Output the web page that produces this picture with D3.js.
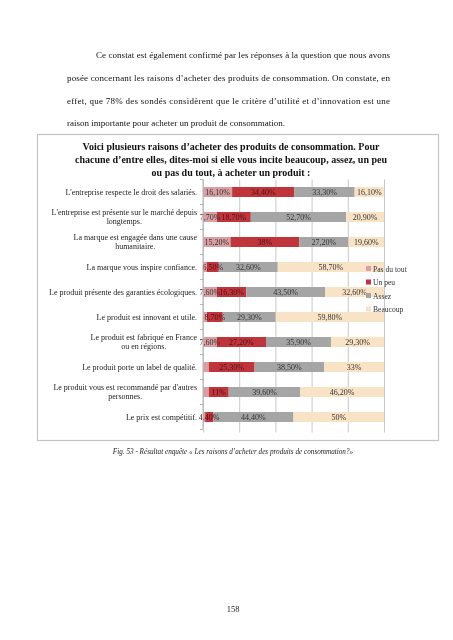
<!DOCTYPE html>
<html><head><meta charset="utf-8">
<script src="https://cdn.jsdelivr.net/npm/d3@7"></script>
<style>html,body{margin:0;padding:0;background:#fff;}svg{display:block;opacity:0.999;will-change:transform;}</style>
</head><body>
<script>
const categories = [
  ["L'entreprise respecte le droit des salariés."],
  ["L'entreprise est présente sur le marché depuis", "longtemps."],
  ["La marque est engagée dans une cause", "humanitaire."],
  ["La marque vous inspire confiance."],
  ["Le produit présente des garanties écologiques."],
  ["Le produit est innovant et utile."],
  ["Le produit est fabriqué en France", "ou en régions."],
  ["Le produit porte un label de qualité."],
  ["Le produit vous est recommandé par d'autres", "personnes."],
  ["Le prix est compétitif."]
];
const seriesNames = ["Pas du tout", "Un peu", "Assez", "Beaucoup"];
const pasDuTout = [16.1, 7.7, 15.2, 2.2, 7.6, 2.2, 7.6, 3.2, 3.2, 1.2];
const unPeu     = [34.4, 18.7, 38.0, 6.5, 16.3, 8.7, 27.2, 25.3, 11.0, 4.4];
const assez     = [33.3, 52.7, 27.2, 32.6, 43.5, 29.3, 35.9, 38.5, 39.6, 44.4];
const beaucoup  = [16.1, 20.9, 19.6, 58.7, 32.6, 59.8, 29.3, 33.0, 46.2, 50.0];
const colors = ["#d99fa2", "#c0343c", "#a5a5a5", "#f9e3c6"];
const xTicks = [0, 20, 40, 60, 80, 100];

const paragraph = [
  "Ce constat est également confirmé par les réponses à la question que nous avons",
  "posée concernant les raisons d’acheter des produits de consommation. On constate, en",
  "effet, que 78% des sondés considèrent que le critère d’utilité et d’innovation est une",
  "raison importante pour acheter un produit de consommation."
];
const titleLines = [
  "Voici plusieurs raisons d’acheter des produits de consommation. Pour",
  "chacune d’entre elles, dites-moi si elle vous incite beaucoup, assez, un peu",
  "ou pas du tout, à acheter un produit :"
];
const caption = "Fig. 53 - Résultat enquête « Les raisons d’acheter des produits de consommation?»";
const pageNumber = "158";

const W = 453, H = 640;
const svg = d3.select("body").append("svg").attr("width", W).attr("height", H);

const serif = "'Liberation Serif', 'Times New Roman', serif";
paragraph.forEach((t, i) => {
  const x0 = i === 0 ? 96 : 67;
  const el = svg.append("text").attr("x", x0).attr("y", 58 + i * 22.8)
    .attr("font-family", serif).attr("font-size", 9).attr("fill", "#111").text(t);
  if (i < 3) el.attr("textLength", 390 - x0).attr("lengthAdjust", "spacing");
});

svg.append("rect").attr("x", 37.5).attr("y", 134.5).attr("width", 401).attr("height", 306)
  .attr("fill", "#fff").attr("stroke", "#c4c4c4").attr("stroke-width", 1.2);

titleLines.forEach((t, i) => {
  svg.append("text").attr("x", 231).attr("y", 149.5 + i * 13.2).attr("text-anchor", "middle")
    .attr("font-family", serif).attr("font-weight", "bold").attr("font-size", 10)
    .attr("fill", "#111").text(t);
});

const x = d3.scaleLinear().domain([0, 100]).range([203, 384]);
const y = d3.scaleBand().domain(d3.range(categories.length)).range([179.5, 429.5]).paddingInner(0.58).paddingOuter(0.29);

const grid = svg.append("g").attr("transform", "translate(0,429.5)")
  .call(d3.axisBottom(x).tickValues(xTicks).tickSize(-250).tickSizeOuter(0).tickFormat(""));
grid.select(".domain").remove();
grid.selectAll(".tick line").attr("stroke", "#c9c9c9").attr("stroke-width", 1);
grid.selectAll(".tick").append("line").attr("y1", 0).attr("y2", 3).attr("stroke", "#c9c9c9");

const rows = categories.map((c, i) => ({i, v: [pasDuTout[i], unPeu[i], assez[i], beaucoup[i]]}));
const stack = d3.stack().keys([0, 1, 2, 3]).value((d, k) => d.v[k]);
const layers = stack(rows);
const fmt = v => (Number.isInteger(v) ? String(v) : v.toFixed(2).replace(".", ",")) + "%";
const bh = 10;
layers.forEach((layer, k) => {
  svg.append("g").selectAll("rect").data(layer).enter().append("rect")
    .attr("x", d => x(d[0])).attr("width", d => x(d[1]) - x(d[0]))
    .attr("y", d => y(d.data.i) + y.bandwidth() / 2 - bh / 2).attr("height", bh)
    .attr("fill", colors[k]);
});
layers.forEach((layer, k) => {
  svg.append("g").selectAll("text").data(layer.filter(d => d.data.v[k] >= 4)).enter().append("text")
    .attr("x", d => (x(d[0]) + x(d[1])) / 2)
    .attr("y", d => y(d.data.i) + y.bandwidth() / 2 + 2.8)
    .attr("text-anchor", "middle").attr("font-family", serif).attr("font-size", 8)
    .attr("fill", k === 1 ? "#4a1216" : "#333")
    .text(d => fmt(d.data.v[k]));
});

const yAxis = svg.append("g").attr("transform", "translate(203,0)")
  .call(d3.axisLeft(y).tickSize(0).tickFormat(""));
yAxis.select(".domain").attr("stroke", "#b5b5b5").attr("d", "M0,179.5V429.5");
d3.range(categories.length + 1).forEach(j => {
  const yy = 179.5 + j * y.step();
  svg.append("line").attr("x1", 200).attr("x2", 203)
    .attr("y1", yy).attr("y2", yy).attr("stroke", "#b5b5b5");
});

categories.forEach((lines, i) => {
  const cy = y(i) + y.bandwidth() / 2;
  if (lines.length === 1) {
    svg.append("text").attr("x", 197).attr("y", cy + 2.6).attr("text-anchor", "end")
      .attr("font-family", serif).attr("font-size", 8).attr("fill", "#222").text(lines[0]);
  } else {
    const t1 = svg.append("text").attr("x", 197).attr("y", cy - 1.8).attr("text-anchor", "end")
      .attr("font-family", serif).attr("font-size", 8).attr("fill", "#222").text(lines[0]);
    const w = t1.node().getComputedTextLength();
    svg.append("text").attr("x", 197 - w / 2).attr("y", cy + 7).attr("text-anchor", "middle")
      .attr("font-family", serif).attr("font-size", 8).attr("fill", "#222").text(lines[1]);
  }
});

seriesNames.forEach((n, k) => {
  const ly = 269 + k * 13.5;
  svg.append("rect").attr("x", 366).attr("y", ly - 3).attr("width", 5).attr("height", 5).attr("fill", colors[k]);
  svg.append("text").attr("x", 373).attr("y", ly + 2.5).attr("font-family", serif)
    .attr("font-size", 7.6).attr("fill", "#333").text(n);
});

svg.append("text").attr("x", 233).attr("y", 454).attr("text-anchor", "middle")
  .attr("font-family", serif).attr("font-style", "italic").attr("font-size", 7.2)
  .attr("fill", "#222").text(caption);

svg.append("text").attr("x", 233).attr("y", 612).attr("text-anchor", "middle")
  .attr("font-family", serif).attr("font-size", 8.5).attr("fill", "#222").text(pageNumber);
</script>
</body></html>
